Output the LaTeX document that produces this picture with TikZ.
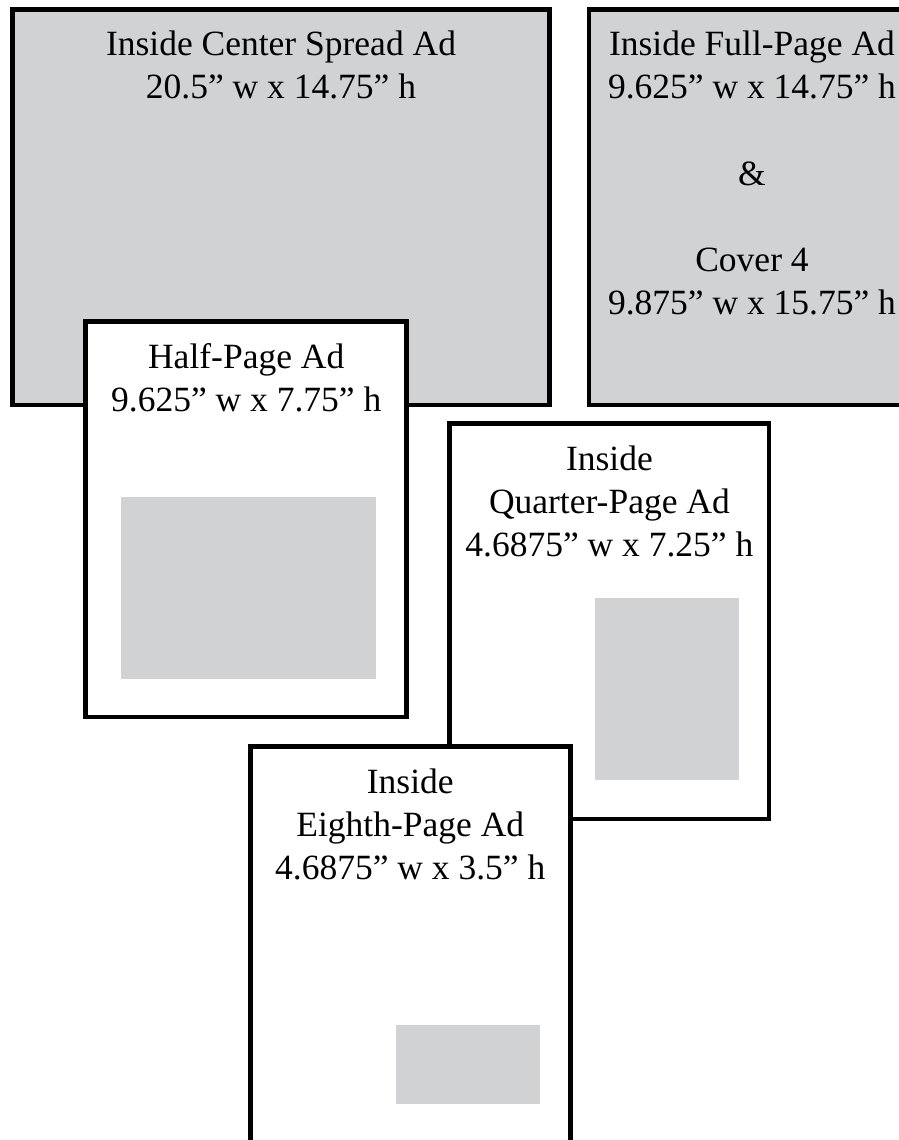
\documentclass[tikz,border=0pt]{standalone}
\usepackage{fontspec}
\setmainfont{Liberation Serif}
\definecolor{adgrey}{HTML}{D1D2D4}
\begin{document}
\begin{tikzpicture}[x=1pt,y=-1pt,
  greybox/.style={draw=black,line width=4.5pt,fill=adgrey},
  whitebox/.style={draw=black,line width=4.5pt,fill=white},
  innerad/.style={fill=adgrey},
  lbl/.style={anchor=base,inner sep=0pt,font=\fontsize{35.5}{43}\selectfont}]
\useasboundingbox (0,0) rectangle (899,1140);
\begin{scope}
\clip (0,0) rectangle (899,1140);
% Inside Center Spread
\draw[greybox] (12.5,9.5) rectangle (549.5,405);
\node[lbl] (cs1) at (281,56) {Inside Center Spread Ad};
\node[lbl] (cs2) at (281,99) {20.5” w x 14.75” h};
% Full page
\draw[greybox] (589,9.5) rectangle (916,405);
\node[lbl] (fp1) at (752,56) {Inside Full-Page Ad};
\node[lbl] (fp2) at (752,99) {9.625” w x 14.75” h};
\node[lbl] (fp3) at (752,185) {\&};
\node[lbl] (fp4) at (752,271.5) {Cover 4};
\node[lbl] (fp5) at (752,314.5) {9.875” w x 15.75” h};
% Half page
\draw[whitebox] (85.7,321.7) rectangle (406.7,717);
\fill[innerad] (121,497) rectangle (376,679);
\node[lbl] (hp1) at (246.2,368) {Half-Page Ad};
\node[lbl] (hp2) at (246.2,411) {9.625” w x 7.75” h};
% Quarter page
\draw[whitebox] (449.7,423.3) rectangle (769,819);
\fill[innerad] (595,598) rectangle (739,780);
\node[lbl] (qp1) at (609.4,470) {Inside};
\node[lbl] (qp2) at (609.4,513) {Quarter-Page Ad};
\node[lbl] (qp3) at (609.4,556) {4.6875” w x 7.25” h};
% Eighth page
\draw[whitebox] (250.3,746.3) rectangle (570.3,1170);
\fill[innerad] (396,1025) rectangle (540,1104);
\node[lbl] (ep1) at (410.3,793) {Inside};
\node[lbl] (ep2) at (410.3,836) {Eighth-Page Ad};
\node[lbl] (ep3) at (410.3,879) {4.6875” w x 3.5” h};
\end{scope}
\end{tikzpicture}
\end{document}
